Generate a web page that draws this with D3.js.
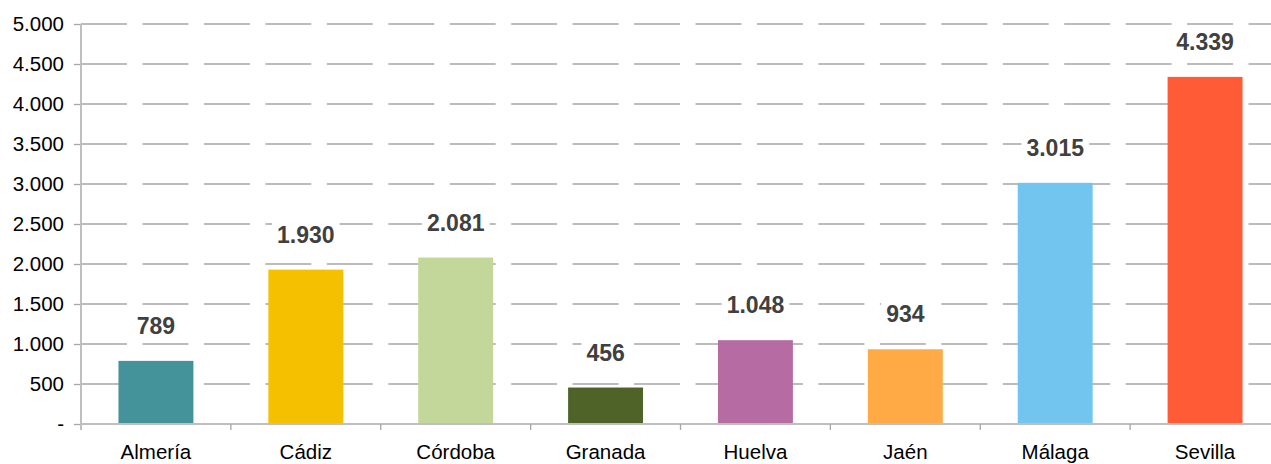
<!doctype html>
<html>
<head>
<meta charset="UTF-8">
<title>Andalucía por provincias</title>
<script src="https://cdn.jsdelivr.net/npm/d3@7"></script>
<style>
  html, body { margin: 0; padding: 0; background: #fff; }
  svg { display: block; font-family: "Liberation Sans", Arial, sans-serif; }
</style>
</head>
<body>
<div id="chart"></div>
<script>
const provincias = ["Almería", "Cádiz", "Córdoba", "Granada", "Huelva", "Jaén", "Málaga", "Sevilla"];
const valores = [789, 1930, 2081, 456, 1048, 934, 3015, 4339];
const colores = ["#44939b", "#f5c000", "#c4d79b", "#4f6228", "#b66ca3", "#ffaa44", "#72c5ef", "#ff5b36"];
const ticksY = [0, 500, 1000, 1500, 2000, 2500, 3000, 3500, 4000, 4500, 5000];
const ticksYLabels = ["-", "500", "1.000", "1.500", "2.000", "2.500", "3.000", "3.500", "4.000", "4.500", "5.000"];
const etiquetas = ["789", "1.930", "2.081", "456", "1.048", "934", "3.015", "4.339"];

const width = 1271, height = 464;
const plotLeft = 81, plotRight = 1280, plotTop = 24, plotBottom = 424;

const svg = d3.select("#chart").append("svg")
    .attr("width", width)
    .attr("height", height);

const x = d3.scaleBand()
    .domain(provincias)
    .range([plotLeft, plotRight])
    .paddingInner(0.5)
    .paddingOuter(0.25);

const y = d3.scaleLinear()
    .domain([0, 5000])
    .range([plotBottom, plotTop]);

// grid lines (dashed)
svg.append("g")
    .selectAll("line")
    .data(ticksY.slice(1))
    .join("line")
    .attr("x1", plotLeft)
    .attr("x2", plotRight)
    .attr("y1", d => y(d))
    .attr("y2", d => y(d))
    .attr("stroke", "#a6a6a6")
    .attr("stroke-width", 1.3)
    .attr("stroke-dasharray", "46 15.45");

// y axis
const yAxis = svg.append("g")
    .attr("transform", `translate(${plotLeft},0)`)
    .call(d3.axisLeft(y)
        .tickValues(ticksY)
        .tickSize(7)
        .tickPadding(10)
        .tickFormat((d, i) => ticksYLabels[i]));
yAxis.select(".domain").remove();
yAxis.selectAll(".tick line").attr("stroke", "#a6a6a6").attr("stroke-width", 1.3);
yAxis.selectAll(".tick text")
    .attr("fill", "#000")
    .style("font-size", "20.5px")
    .style("font-family", "'Liberation Sans', Arial, sans-serif");

// bars
svg.append("g")
    .selectAll("rect")
    .data(provincias)
    .join("rect")
    .attr("x", d => x(d))
    .attr("width", x.bandwidth())
    .attr("y", (d, i) => y(valores[i]))
    .attr("height", (d, i) => y(0) - y(valores[i]))
    .attr("fill", (d, i) => colores[i]);

// axis lines
svg.append("line")
    .attr("x1", plotLeft).attr("x2", plotLeft)
    .attr("y1", plotTop).attr("y2", plotBottom + 6)
    .attr("stroke", "#bfbfbf").attr("stroke-width", 2);
svg.append("line")
    .attr("x1", plotLeft).attr("x2", plotRight)
    .attr("y1", plotBottom).attr("y2", plotBottom)
    .attr("stroke", "#bfbfbf").attr("stroke-width", 2);

// x ticks between categories
const step = x.step();
svg.append("g")
    .selectAll("line")
    .data(provincias.slice(1))
    .join("line")
    .attr("x1", d => x(d) - step * 0.25)
    .attr("x2", d => x(d) - step * 0.25)
    .attr("y1", plotBottom)
    .attr("y2", plotBottom + 6)
    .attr("stroke", "#a6a6a6")
    .attr("stroke-width", 1.3);

// x labels
svg.append("g")
    .selectAll("text")
    .data(provincias)
    .join("text")
    .attr("x", d => x(d) + x.bandwidth() / 2)
    .attr("y", 459)
    .attr("text-anchor", "middle")
    .attr("fill", "#000")
    .style("font-size", "20.5px")
    .text(d => d);

// value labels with white boxes
const lab = svg.append("g")
    .selectAll("g")
    .data(provincias)
    .join("g")
    .attr("transform", (d, i) => `translate(${x(d) + x.bandwidth() / 2},${y(valores[i]) - 27})`);

const txt = lab.append("text")
    .attr("text-anchor", "middle")
    .attr("fill", "#404040")
    .style("font-size", "23px")
    .style("font-weight", "bold")
    .text((d, i) => etiquetas[i]);

txt.each(function () {
    const b = this.getBBox();
    d3.select(this.parentNode).insert("rect", "text")
        .attr("x", b.x - 5)
        .attr("y", b.y)
        .attr("width", b.width + 10)
        .attr("height", b.height + 4)
        .attr("fill", "#fff");
});
</script>
</body>
</html>
